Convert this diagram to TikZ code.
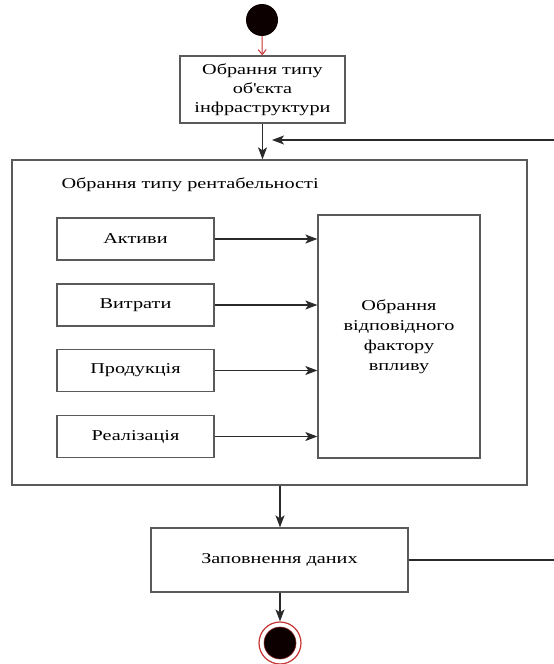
\documentclass[tikz,border=0pt]{standalone}
\usepackage{fontspec}
\setmainfont{Liberation Serif}[FakeStretch=1.35]
\usetikzlibrary{arrows.meta}
\definecolor{linegray}{HTML}{2A2A2A}
\definecolor{boxgray}{HTML}{5A5A5A}
\definecolor{dotblack}{HTML}{0D0000}
\definecolor{ringred}{HTML}{C83232}
\tikzset{
 actbox/.style={draw=boxgray,line width=1.3pt,fill=white,inner sep=0pt,align=center,font=\fontsize{15}{19}\selectfont},
 flow/.style={draw=linegray,line width=1.1pt,-{Stealth[length=12pt,width=9pt,inset=3pt]}},
}
\begin{document}
\begin{tikzpicture}[x=1pt,y=-1pt]
 \useasboundingbox[fill=white] (0,0) rectangle (554,664);
 % start and first activity
 \node[circle,fill=dotblack,minimum size=32pt,inner sep=0pt] (start) at (262,20) {};
 \node[actbox,minimum width=165pt,minimum height=67pt] (objtype) at (262.5,89.5) {Обрання типу\\об\textquotesingle єкта\\інфраструктури};
 % composite activity
 \node[actbox,minimum width=515pt,minimum height=325pt] (profit) at (269.5,322.5) {};
 \node[anchor=west,font=\fontsize{15}{19}\selectfont] (profittitle) at (58,185) {Обрання типу рентабельності};
 \node[actbox,minimum width=157pt,minimum height=42pt] (assets) at (135.5,239) {Активи};
 \node[actbox,minimum width=157pt,minimum height=42pt] (costs) at (135.5,305) {Витрати};
 \node[actbox,minimum width=157pt,minimum height=42pt] (output) at (135.5,370.5) {Продукція};
 \node[actbox,minimum width=157pt,minimum height=42pt] (sales) at (135.5,436.5) {Реалізація};
 \node[actbox,minimum width=162pt,minimum height=243pt,font=\fontsize{15}{20}\selectfont] (factor) at (399,336.5) {Обрання\\відповідного\\фактору\\впливу};
 % data and end
 \node[actbox,minimum width=257pt,minimum height=64pt] (filldata) at (279.5,560) {Заповнення даних};
 \node[circle,draw=ringred,line width=1.2pt,minimum size=42pt,inner sep=0pt] (finish) at (280,643) {};
 \node[circle,fill=dotblack,draw=ringred!70!black,line width=0.6pt,minimum size=32pt,inner sep=0pt] (finishdot) at (280,643) {};
 \coordinate (loopin) at (554,140);
 \coordinate (loopend) at (272,140);
 \coordinate (loopout) at (554,560);
 % connectors
 \draw[ringred,line width=1pt,-{Straight Barb[length=5pt,width=8pt]}] (start) -- (objtype);
 \draw[flow] (objtype.south) -- (objtype.south |- profit.north);
 \draw[flow] (loopin) -- (loopend);
 \draw[flow] (assets) -- (assets -| factor.west);
 \draw[flow] (costs) -- (costs -| factor.west);
 \draw[flow] (output) -- (output -| factor.west);
 \draw[flow] (sales) -- (sales -| factor.west);
 \draw[flow] (finish.north |- profit.south) -- (filldata.north -| finish.north);
 \draw[flow] (filldata.south -| finish.north) -- (finish.north);
 \draw[linegray,line width=1.1pt] (filldata) -- (loopout);
\end{tikzpicture}
\end{document}
